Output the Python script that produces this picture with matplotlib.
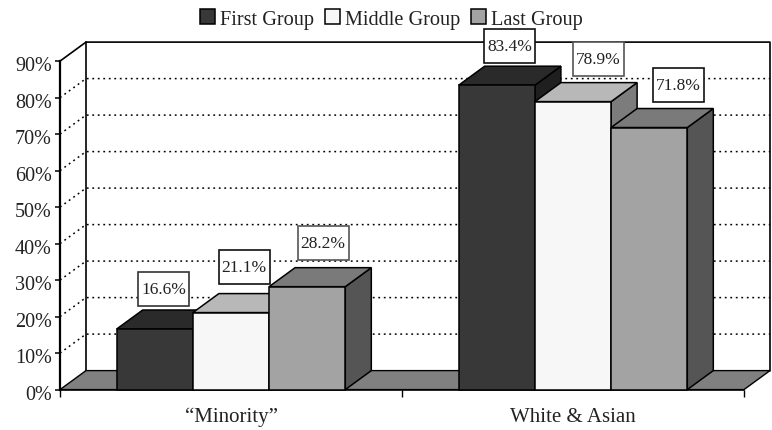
import matplotlib
matplotlib.use("Agg")
import matplotlib.pyplot as plt
from matplotlib.patches import Polygon, Rectangle
from matplotlib.transforms import ScaledTranslation

plt.rcParams['font.family'] = ['Liberation Serif', 'DejaVu Serif']

categories = ['\u201cMinority\u201d', 'White & Asian']
groups = ['First Group', 'Middle Group', 'Last Group']
first_group = [16.6, 83.4]
middle_group = [21.1, 78.9]
last_group = [28.2, 71.8]
y_ticks = [0, 10, 20, 30, 40, 50, 60, 70, 80, 90]

# front, top, side colours for each series
front_cols = ['#383838', '#f7f7f7', '#a3a3a3']
top_cols = ['#2a2a2a', '#b8b8b8', '#7a7a7a']
side_cols = ['#1f1f1f', '#7c7c7c', '#555555']
floor_col = '#808080'
# label box nudges in pixels, per series, per category
nudge_x = [[-4, 0, 3], [0, 12, 16]]
nudge_y = [[21, 27, 25], [20, 24, 24]]
box_edges = [['#333333', '#111111', '#555555'], ['#111111', '#555555', '#111111']]

W, H = 772, 431
fig = plt.figure(figsize=(W / 100, H / 100), dpi=100)
x0, x1, y0, y_top = 60, 744, 390.6, 62.1
ax = fig.add_axes([x0 / W, (H - y0) / H, (x1 - x0) / W, (y0 - y_top) / H])
ax.set_xlim(0, 2)
ax.set_ylim(0, 90)
ax.patch.set_visible(False)

px_x = 2 / (x1 - x0)
px_y = 90 / (y0 - y_top)
dep_x = 26 * px_x
dep_y = 19 * px_y
bar_w = 76.2 * px_x

# back wall grid
for v in y_ticks[1:-1]:
    ax.plot([0, dep_x, 2 + dep_x], [v, v + dep_y, v + dep_y], color='black', lw=1.1,
            ls=(0, (1.2, 2.4)), clip_on=False, zorder=0.5)
ax.plot([0, dep_x, 2 + dep_x, 2 + dep_x], [90, 90 + dep_y, 90 + dep_y, dep_y], color='black',
        lw=1.2, clip_on=False, zorder=0.5)
ax.plot([dep_x, dep_x], [dep_y, 90 + dep_y], color='black', lw=1.2, clip_on=False, zorder=0.5)

# floor
ax.add_patch(Polygon([(0, 0), (dep_x, dep_y), (2 + dep_x, dep_y), (2, 0)], closed=True,
                     facecolor=floor_col, edgecolor='black', lw=1.0, clip_on=False, zorder=0.6))

series = [first_group, middle_group, last_group]
z = 3
handles = []
for c in range(len(categories)):
    for s in range(3):
        val = series[s][c]
        left = c + 0.5 + (s - 1.5) * bar_w
        right = left + bar_w
        ax.add_patch(Polygon([(right, 0), (right + dep_x, dep_y), (right + dep_x, val + dep_y), (right, val)],
                             closed=True, facecolor=side_cols[s], edgecolor='black', lw=1.1,
                             clip_on=False, zorder=z))
        ax.add_patch(Polygon([(left, val), (left + dep_x, val + dep_y), (right + dep_x, val + dep_y), (right, val)],
                             closed=True, facecolor=top_cols[s], edgecolor='black', lw=1.1,
                             clip_on=False, zorder=z))
        b = ax.bar(left, val, width=bar_w, align='edge', color=front_cols[s], edgecolor='black',
                   linewidth=1.1, clip_on=False, zorder=z + 0.5)
        if c == 0:
            handles.append(b[0])
        z += 1

# value labels go on top of everything
for c in range(len(categories)):
    for s in range(3):
        val = series[s][c]
        cx = c + 0.5 + (s - 1) * bar_w + dep_x / 2 + nudge_x[c][s] * px_x
        cy = val + dep_y + nudge_y[c][s] * px_y
        ax.add_patch(Rectangle((cx - 25.5 * px_x, cy - 17 * px_y), 51 * px_x, 34 * px_y, facecolor='white',
                               edgecolor=box_edges[c][s], lw=1.2, clip_on=False, zorder=20))
        ax.text(cx, cy, '%.1f%%' % val, ha='center', va='center', fontsize=12.5, color='#222222', zorder=21)

ax.spines['top'].set_visible(False)
ax.spines['right'].set_visible(False)
ax.spines['left'].set_linewidth(1.6)
ax.spines['bottom'].set_linewidth(1.1)
ax.set_yticks(y_ticks)
ax.set_yticklabels(['%d%%' % v for v in y_ticks], fontsize=14.5, color='#222222')
ax.tick_params(axis='y', length=3.5, width=1.1, pad=2.5)
# the labels sit a little below their ticks
shift = ScaledTranslation(0, -2 / 100, fig.dpi_scale_trans)
for lab in ax.get_yticklabels():
    lab.set_transform(lab.get_transform() + shift)
ax.set_xticks([0, 1, 2])
ax.set_xticklabels([])
ax.tick_params(axis='x', which='major', length=5, width=1.0)
ax.set_xticks([0.5, 1.5], minor=True)
ax.set_xticklabels(categories, minor=True, fontsize=15, color='#222222')
ax.tick_params(axis='x', which='minor', length=0, pad=12.5)

leg = fig.legend(handles, groups, ncol=3, loc='upper left', bbox_to_anchor=(184 / W, 1 + 6 / H),
                 frameon=False, fontsize=14.6, handlelength=0.72, handleheight=0.72,
                 handletextpad=0.25, columnspacing=0.55, borderpad=0.3, labelcolor='#222222')

fig.savefig('out.png', dpi=100)
